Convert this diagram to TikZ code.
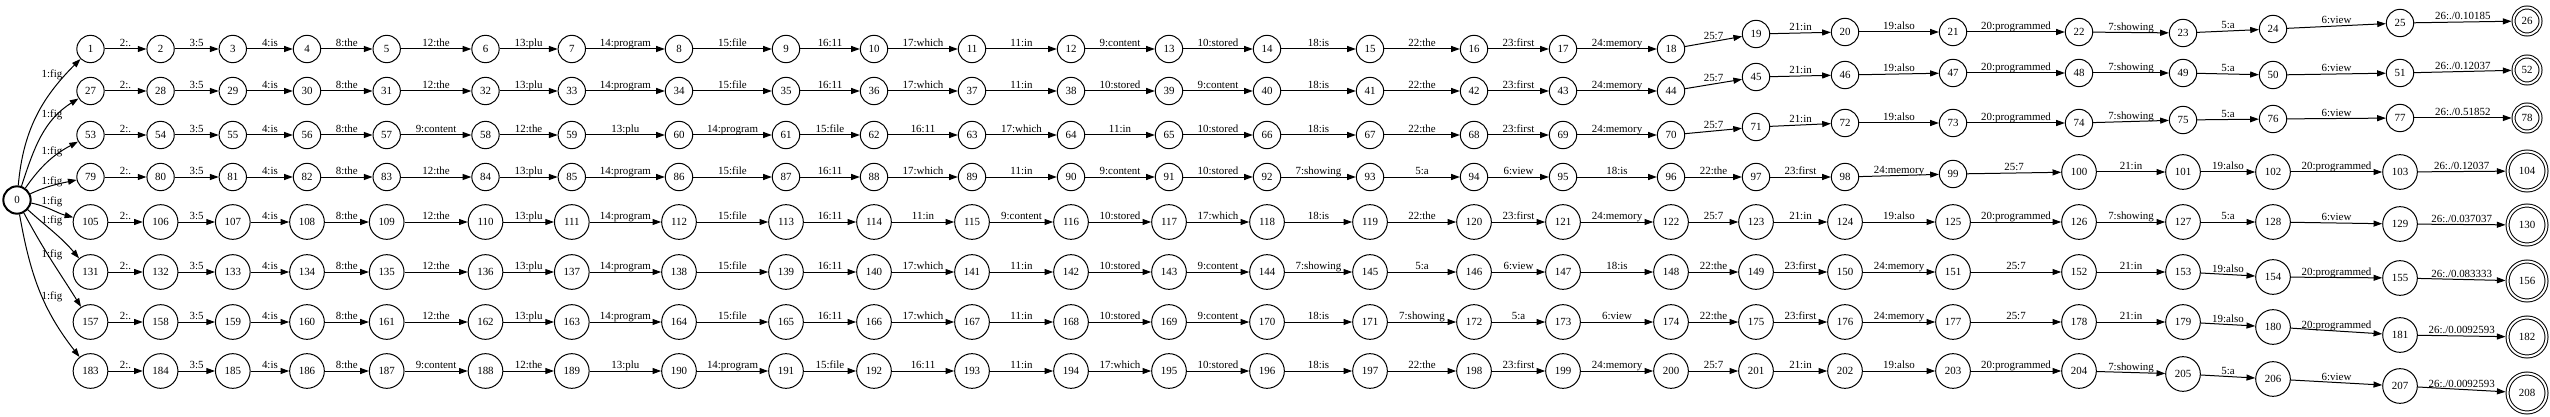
\documentclass[tikz,border=0pt]{standalone}
\usepackage{fontspec}
\setmainfont{Liberation Serif}
\usetikzlibrary{arrows.meta}
\newcommand\lblfont{\fontsize{8.2}{10}\selectfont}
\def\xs{{0,90.5,160.6,232.8,307,386.7,485.5,571.8,679,786,874,972,1071,1169,1267,1370,1474,1563,1671,1756,1845,1953,2079,2183,2273,2400,2527}}
\newcommand\fstrow[3]{%
  \foreach \k in {1,...,26} {%
    \pgfmathtruncatemacro\id{#1+\k}%
    \pgfmathsetmacro\xx{\xs[\k]}%
    \pgfmathsetmacro\yy{#2[\k]}%
    \ifnum\id<100 \def\sty{st}\else\def\sty{stb}\fi
    \ifnum\k=26 \ifnum\id<100 \def\sty{fin}\else\def\sty{finb}\fi\fi
    \node[\sty] (n\id) at (\xx,-\yy) {\id};
  }%
  \foreach \l [count=\k] in {#3} {%
    \pgfmathtruncatemacro\a{#1+\k}%
    \pgfmathtruncatemacro\b{#1+\k+1}%
    \draw[ed] (n\a) -- node[lab] (e\a) {\l} (n\b);
  }%
}
\begin{document}
\begin{tikzpicture}[x=0.75pt, y=0.75pt,
  st/.style={circle, draw, line width=0.75pt, minimum size=20.5pt, inner sep=0pt, font=\lblfont},
  stb/.style={st, minimum size=26pt},
  fin/.style={circle, draw, double, double distance=1.5pt, line width=0.75pt, minimum size=20.25pt, inner sep=0pt, outer sep=1.5pt, font=\lblfont},
  finb/.style={fin, minimum size=29.25pt},
  ed/.style={-{Triangle[length=6.5pt,width=4.5pt]}, line width=0.75pt},
  lab/.style={midway, anchor=base, yshift=1.8pt, inner sep=0pt, font=\lblfont},
  flab/.style={inner sep=0pt, font=\lblfont}]
\useasboundingbox (0,0) rectangle (2550,-417);

\node[st, line width=1.5pt] (n0) at (17,-200) {0};

\fstrow{0}{{0,49,49,49,49,49,49,49,49,49,49,49,49,49,49,49,49,49,49,34,32,32,32,33,29,23,21}}%
{{2:.},{3:5},{4:is},{8:the},{12:the},{13:plu},{14:program},{15:file},{16:11},{17:which},{11:in},{9:content},{10:stored},{18:is},{22:the},{23:first},{24:memory},{25:7},{21:in},{19:also},{20:programmed},{7:showing},{5:a},{6:view},{26:./0.10185}}

\fstrow{26}{{0,91,91,91,91,91,91,91,91,91,91,91,91,91,91,91,91,91,91,77,75,73,73,73,75,73,70}}%
{{2:.},{3:5},{4:is},{8:the},{12:the},{13:plu},{14:program},{15:file},{16:11},{17:which},{11:in},{10:stored},{9:content},{18:is},{22:the},{23:first},{24:memory},{25:7},{21:in},{19:also},{20:programmed},{7:showing},{5:a},{6:view},{26:./0.12037}}

\fstrow{52}{{0,135,135,135,135,135,135,135,135,135,135,135,135,135,135,135,135,135,135,127,123,123,123,120,119,118,118}}%
{{2:.},{3:5},{4:is},{8:the},{9:content},{12:the},{13:plu},{14:program},{15:file},{16:11},{17:which},{11:in},{10:stored},{18:is},{22:the},{23:first},{24:memory},{25:7},{21:in},{19:also},{20:programmed},{7:showing},{5:a},{6:view},{26:./0.51852}}

\fstrow{78}{{0,177,177,177,177,177,177,177,177,177,177,177,177,177,177,177,177,177,177,177,177,174,172,172,172,172,171}}%
{{2:.},{3:5},{4:is},{8:the},{12:the},{13:plu},{14:program},{15:file},{16:11},{17:which},{11:in},{9:content},{10:stored},{7:showing},{5:a},{6:view},{18:is},{22:the},{23:first},{24:memory},{25:7},{21:in},{19:also},{20:programmed},{26:./0.12037}}

\fstrow{104}{{0,222,222,222,222,222,222,222,222,222,222,222,222,222,222,222,222,222,222,222,222,222,222,222,222,224,225}}%
{{2:.},{3:5},{4:is},{8:the},{12:the},{13:plu},{14:program},{15:file},{16:11},{11:in},{9:content},{10:stored},{17:which},{18:is},{22:the},{23:first},{24:memory},{25:7},{21:in},{19:also},{20:programmed},{7:showing},{5:a},{6:view},{26:./0.037037}}

\fstrow{130}{{0,272,272,272,272,272,272,272,272,272,272,272,272,272,272,272,272,272,272,272,272,272,272,272,277,278,281}}%
{{2:.},{3:5},{4:is},{8:the},{12:the},{13:plu},{14:program},{15:file},{16:11},{17:which},{11:in},{10:stored},{9:content},{7:showing},{5:a},{6:view},{18:is},{22:the},{23:first},{24:memory},{25:7},{21:in},{19:also},{20:programmed},{26:./0.083333}}

\fstrow{156}{{0,322,322,322,322,322,322,322,322,322,322,322,322,322,322,322,322,322,322,322,322,322,322,322,327,335,337}}%
{{2:.},{3:5},{4:is},{8:the},{12:the},{13:plu},{14:program},{15:file},{16:11},{17:which},{11:in},{10:stored},{9:content},{18:is},{7:showing},{5:a},{6:view},{22:the},{23:first},{24:memory},{25:7},{21:in},{19:also},{20:programmed},{26:./0.0092593}}

\fstrow{182}{{0,371,371,371,371,371,371,371,371,371,371,371,371,371,371,371,371,371,371,371,371,371,371,374,379,386,393}}%
{{2:.},{3:5},{4:is},{8:the},{9:content},{12:the},{13:plu},{14:program},{15:file},{16:11},{11:in},{17:which},{10:stored},{18:is},{22:the},{23:first},{24:memory},{25:7},{21:in},{19:also},{20:programmed},{7:showing},{5:a},{6:view},{26:./0.0092593}}

% edges from the start state
\draw[ed] (n0) to[out=85,in=225] (n1);
\draw[ed] (n0) to[out=72,in=212] (n27);
\draw[ed] (n0) to[out=55,in=208] (n53);
\draw[ed] (n0) to[out=25,in=192] (n79);
\draw[ed] (n0) to[out=-12,in=165] (n105);
\draw[ed] (n0) to[out=-42,in=130] (n131);
\draw[ed] (n0) to[out=-62,in=122] (n157);
\draw[ed] (n0) to[out=-80,in=128] (n183);

\node[flab] (f1) at (52,-75) {1:fig};
\node[flab] (f2) at (52,-115) {1:fig};
\node[flab] (f3) at (52,-152) {1:fig};
\node[flab] (f4) at (52,-182) {1:fig};
\node[flab] (f5) at (52,-202) {1:fig};
\node[flab] (f6) at (52,-221) {1:fig};
\node[flab] (f7) at (52,-255) {1:fig};
\node[flab] (f8) at (52,-297) {1:fig};
\end{tikzpicture}
\end{document}
